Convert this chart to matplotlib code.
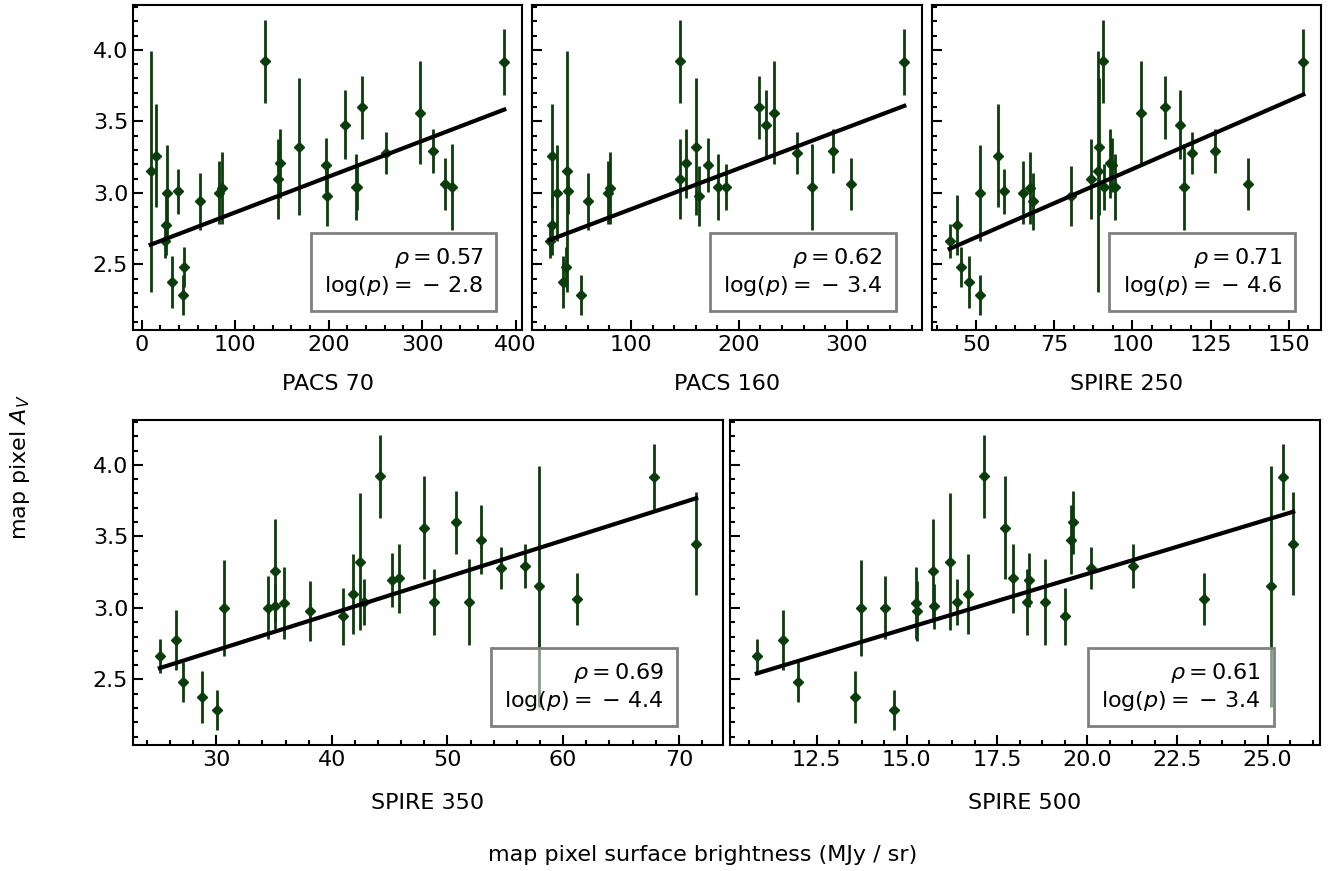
import numpy as np
import matplotlib
matplotlib.use('Agg')
import matplotlib.pyplot as plt
from matplotlib.ticker import MultipleLocator, AutoMinorLocator

matplotlib.rcParams['font.size'] = 16

bands = ['PACS 70', 'PACS 160', 'SPIRE 250', 'SPIRE 350', 'SPIRE 500']

# map pixel A_V (same pixels in every panel)
av = [2.665, 2.777, 2.483, 2.378, 2.285, 3.00, 3.00, 3.01, 3.26, 3.034,
      2.976, 2.94, 3.097, 3.323, 3.039, 3.92, 3.195, 3.207, 3.56, 3.043,
      3.60, 3.043, 3.477, 3.279, 3.295, 3.15, 3.062, 3.916, 3.447]
av_err = [0.12, 0.21, 0.14, 0.18, 0.14, 0.335, 0.22, 0.16, 0.36, 0.25,
          0.21, 0.20, 0.28, 0.48, 0.16, 0.29, 0.19, 0.24, 0.36, 0.23,
          0.22, 0.30, 0.24, 0.15, 0.155, 0.84, 0.185, 0.23, 0.36]

# surface brightness of those pixels, MJy/sr (nan = not in panel)
pacs70 = [24.9, 25.6, 45.2, 32.0, 43.8, 26.7, 82.9, 39.1, 15.3, 86.1,
          198.6, 62.3, 145.9, 168.0, 230.6, 132.0, 197.5, 147.7, 297.2, 229.5,
          235.9, 331.7, 217.8, 261.6, 311.4, 9.6, 324.6, 387.9, np.nan]
pacs160 = [24.7, 26.5, 39.5, 37.4, 54.1, 31.2, 78.3, 41.7, 27.1, 80.5,
           162.6, 60.3, 145.0, 160.5, 188.4, 145.0, 171.3, 151.2, 232.4, 180.3,
           218.4, 268.1, 224.7, 254.1, 287.3, 40.5, 303.7, 353.3, np.nan]
spire250 = [41.5, 43.8, 45.1, 47.8, 51.1, 51.3, 64.9, 59.0, 57.1, 67.2,
            80.2, 68.1, 86.6, 89.4, 91.0, 90.6, 93.3, 92.8, 102.9, 94.4,
            110.3, 116.6, 115.1, 119.0, 126.5, 89.0, 136.9, 154.7, np.nan]
spire350 = [25.13, 26.56, 27.1, 28.8, 30.1, 30.7, 34.5, 35.1, 35.1, 35.9,
            38.1, 40.97, 41.85, 42.45, 42.75, 44.2, 45.23, 45.8, 48.0, 48.8,
            50.7, 51.9, 52.9, 54.6, 56.7, 57.9, 61.2, 67.85, 71.5]
spire500 = [10.84, 11.56, 11.99, 13.56, 14.63, 13.74, 14.38, 15.74, 15.72, 15.26,
            15.29, 19.39, 16.69, 16.19, 16.40, 17.14, 18.38, 17.95, 17.73, 18.32,
            19.6, 18.83, 19.54, 20.1, 21.28, 25.1, 23.23, 25.43, 25.71]

rho = [0.57, 0.62, 0.71, 0.69, 0.61]
logp = [-2.8, -3.4, -4.6, -4.4, -3.4]
fit_slope = [0.002497, 0.002851, 0.009526, 0.0256, 0.0760]
fit_icpt = [2.614, 2.601, 2.214, 1.936, 1.718]

major_step = [100, 100, 25, 10, 2.5]
minor_div = [5, 5, 4, 5, 4]

color = '#0b3c0b'

fig = plt.figure(figsize=(13.38, 8.71), dpi=100)
W, H = 1338., 871.
boxes = [(133, 5, 389, 325), (532, 5, 390, 325), (932, 5, 389, 325),
         (133, 420, 590, 325), (730, 420, 590, 325)]

xdata = [pacs70, pacs160, spire250, spire350, spire500]
for n in range(5):
    l, t, w, h = boxes[n]
    ax = fig.add_axes([l/W, 1 - (t + h)/H, w/W, h/H])
    x = np.array(xdata[n])
    ok = ~np.isnan(x)
    ax.errorbar(x[ok], np.array(av)[ok], yerr=np.array(av_err)[ok], fmt='D',
                color=color, ms=5, elinewidth=2, capsize=0, zorder=3)
    xs = np.array([np.nanmin(x), np.nanmax(x)])
    ax.plot(xs, fit_slope[n]*xs + fit_icpt[n], color='black', lw=3, zorder=5)

    # old-style binary spacing around the minus sign
    txt = (r'$\rho = %.2f$' % rho[n] + '\n' +
           r'$\log(p) =\:\mathrm{-}\ %.1f$' % abs(logp[n]))
    ax.text(0.9, 0.1, txt, transform=ax.transAxes, ha='right', va='bottom',
            multialignment='right', zorder=10,
            bbox=dict(boxstyle='square,pad=0.6', facecolor=(1, 1, 1, 0.5),
                      edgecolor='gray', linewidth=2))

    ax.xaxis.set_major_locator(MultipleLocator(major_step[n]))
    ax.xaxis.set_minor_locator(AutoMinorLocator(minor_div[n]))
    ax.yaxis.set_major_locator(MultipleLocator(0.5))
    ax.yaxis.set_minor_locator(AutoMinorLocator(5))
    ax.tick_params(which='both', direction='in', width=1.5, top=False, right=False)
    ax.tick_params(which='major', length=7)
    ax.tick_params(which='minor', length=3.5)
    for sp in ax.spines.values():
        sp.set_linewidth(1.5)
    if n not in (0, 3):
        ax.tick_params(labelleft=False)
    ax.set_xlabel(bands[n], labelpad=14 if n < 3 else 17)

fig.text(0.015, 0.464, r'map pixel $A_V$', rotation=90, ha='center', va='center')
fig.text(0.525, 0.018, 'map pixel surface brightness (MJy / sr)', ha='center', va='center')

fig.savefig('out.png', dpi=100)
